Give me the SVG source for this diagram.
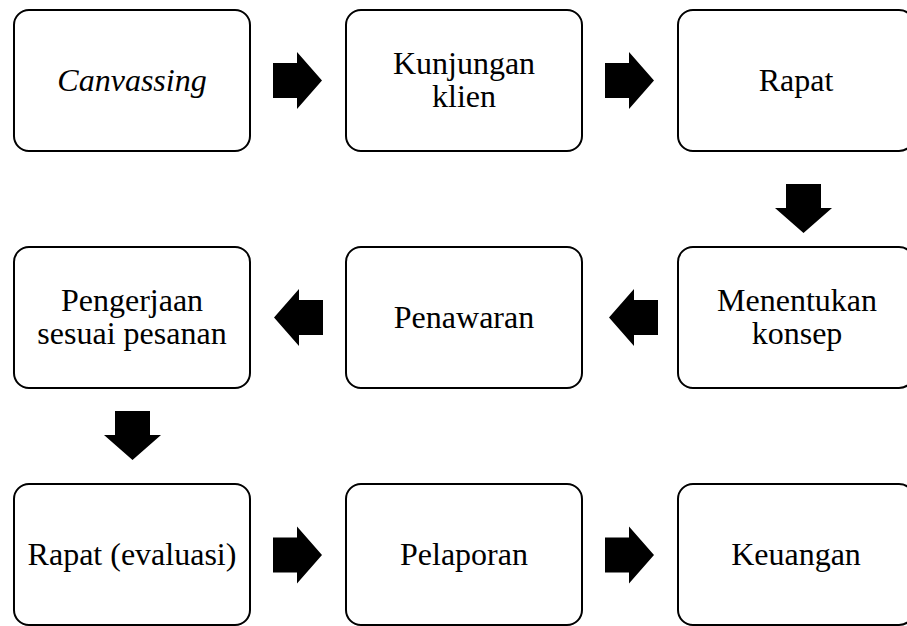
<svg xmlns="http://www.w3.org/2000/svg" width="907" height="626" viewBox="0 0 907 626">
<style>
.box{fill:#fff;stroke:#000;stroke-width:2}
.t{font-family:"Liberation Serif","Times New Roman",serif;font-size:32px;fill:#000;text-anchor:middle}
.i{font-style:italic}
.arr{fill:#000}
</style>
<defs>
<path id="ar" d="M0,-17.5 H24 V-28.5 L49,0 L24,28.5 V17.5 H0 Z"/>
</defs>
<rect width="907" height="626" fill="#fff"/>
<g id="n1"><rect class="box" x="14" y="10" width="236" height="141" rx="15"/><text class="t i" x="132" y="91">Canvassing</text></g>
<g id="n2"><rect class="box" x="346" y="10" width="236" height="141" rx="15"/><text class="t" x="464" y="74">Kunjungan</text><text class="t" x="464" y="107">klien</text></g>
<g id="n3"><rect class="box" x="678" y="10" width="236" height="141" rx="15"/><text class="t" x="796" y="91">Rapat</text></g>
<g id="n4"><rect class="box" x="678" y="247" width="236" height="141" rx="15"/><text class="t" x="797" y="311">Menentukan</text><text class="t" x="797" y="344">konsep</text></g>
<g id="n5"><rect class="box" x="346" y="247" width="236" height="141" rx="15"/><text class="t" x="464" y="328">Penawaran</text></g>
<g id="n6"><rect class="box" x="14" y="247" width="236" height="141" rx="15"/><text class="t" x="132" y="311">Pengerjaan</text><text class="t" x="132" y="344">sesuai pesanan</text></g>
<g id="n7"><rect class="box" x="14" y="484" width="236" height="141" rx="15"/><text class="t" x="132" y="565">Rapat (evaluasi)</text></g>
<g id="n8"><rect class="box" x="346" y="484" width="236" height="141" rx="15"/><text class="t" x="464" y="565">Pelaporan</text></g>
<g id="n9"><rect class="box" x="678" y="484" width="236" height="141" rx="15"/><text class="t" x="796" y="565">Keuangan</text></g>
<g id="connectors" class="arr">
<use href="#ar" transform="translate(273,80.5)"/>
<use href="#ar" transform="translate(605,80.5)"/>
<use href="#ar" transform="translate(803.5,184) rotate(90)"/>
<use href="#ar" transform="translate(658,317.5) rotate(180)"/>
<use href="#ar" transform="translate(323,317.5) rotate(180)"/>
<use href="#ar" transform="translate(132.5,411) rotate(90)"/>
<use href="#ar" transform="translate(273,555)"/>
<use href="#ar" transform="translate(605,555)"/>
</g>
</svg>
